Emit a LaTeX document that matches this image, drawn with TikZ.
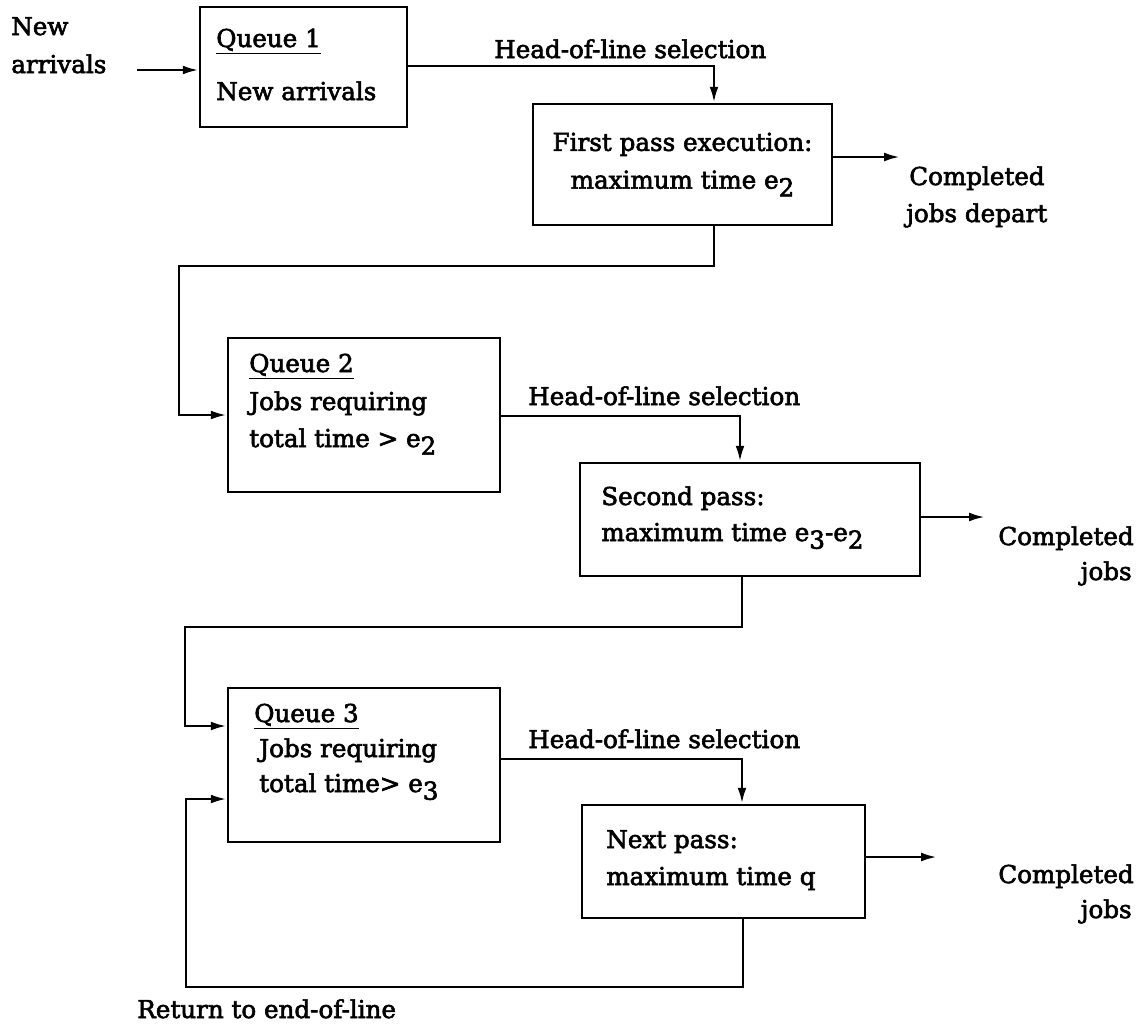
\documentclass[tikz,border=0pt]{standalone}
\usepackage{fontspec}
\setmainfont{DejaVu Serif}[FakeBold=2.5]
\usetikzlibrary{arrows.meta}

\newcommand{\lowix}[1]{\raisebox{-.6ex}{#1}}

\begin{document}
\begin{tikzpicture}[x=.02cm,y=-.02cm,line width=1.5pt,
  font=\fontsize{14}{21.5}\selectfont,
  box/.style={draw,inner sep=0pt},
  txt/.style={anchor=base west,inner sep=0pt},
  rtxt/.style={anchor=base east,inner sep=0pt},
  arr/.style={-{Latex[length=9pt,width=5pt]}}]
  \useasboundingbox (0,0) rectangle (1143,1029);
  % boxes
  \node[box,minimum width=4.14cm,minimum height=2.4cm] (q1) at (303.5,67) {};
  \node[box,minimum width=5.98cm,minimum height=2.42cm,align=center] (pass1) at (682.5,164.5)
    {First pass execution:\\maximum time e\lowix{2}};
  \node[box,minimum width=5.44cm,minimum height=3.08cm] (q2) at (364,415) {};
  \node[box,minimum width=6.8cm,minimum height=2.26cm] (pass2) at (750,519.5) {};
  \node[box,minimum width=5.44cm,minimum height=3.08cm] (q3) at (364,765) {};
  \node[box,minimum width=5.66cm,minimum height=2.26cm] (passn) at (723.5,861.5) {};
  % texts in the boxes
  \node[txt] (q1a) at (215,47) {\underline{Queue 1}};
  \node[txt] (q1b) at (215,100) {New arrivals};
  \node[txt] (q2a) at (248,372) {\underline{Queue 2}};
  \node[txt] (q2b) at (248,410) {Jobs requiring};
  \node[txt] (q2c) at (248,447) {total time > e\lowix{2}};
  \node[txt] (p2a) at (600,505) {Second pass:};
  \node[txt] (p2b) at (600,541) {maximum time e\lowix{3}-e\lowix{2}};
  \node[txt] (q3a) at (253,722) {\underline{Queue 3}};
  \node[txt] (q3b) at (258,757) {Jobs requiring};
  \node[txt] (q3c) at (258,792) {total time> e\lowix{3}};
  \node[txt] (pna) at (605,848) {Next pass:};
  \node[txt] (pnb) at (605,885) {maximum time q};
  % outside labels
  \node[txt] (new1) at (10,35) {New};
  \node[txt] (new2) at (10,73) {arrivals};
  \node[txt] (hol1) at (493,58) {Head-of-line selection};
  \node[txt] (hol2) at (527,405) {Head-of-line selection};
  \node[txt] (hol3) at (527,748) {Head-of-line selection};
  \node[txt] (done1a) at (908,185) {Completed};
  \node[txt] (done1b) at (905,222) {jobs depart};
  \node[rtxt] (done2a) at (1135,545) {Completed};
  \node[rtxt] (done2b) at (1133,580) {jobs};
  \node[rtxt] (donena) at (1135,883) {Completed};
  \node[rtxt] (donenb) at (1133,918) {jobs};
  \node[txt] (ret) at (136,1018) {Return to end-of-line};
  % turning points
  \coordinate (nin) at (137,70);
  \coordinate (h1) at (714,66);
  \coordinate (c1) at (714,266);
  \coordinate (c2) at (179,266);
  \coordinate (h2) at (740,416);
  \coordinate (c3) at (742,627);
  \coordinate (c4) at (185,627);
  \coordinate (in3a) at (185,726);
  \coordinate (h3) at (742,759);
  \coordinate (c5) at (743,987);
  \coordinate (c6) at (186,987);
  \coordinate (in3b) at (186,799);
  \coordinate (t1) at (900,157);
  \coordinate (t2) at (985,517);
  \coordinate (tn) at (937,857);
  % connectors
  \draw[arr] (nin) -- (nin -| q1.west);
  \draw[arr] (q1.east |- h1) -- (h1) -- (h1 |- pass1.north);
  \draw[arr] (pass1.east |- t1) -- (t1);
  \draw[arr] (pass1.south -| c1) -- (c1) -- (c2) |- (q2.west);
  \draw[arr] (q2.east |- h2) -- (h2) -- (h2 |- pass2.north);
  \draw[arr] (pass2.east |- t2) -- (t2);
  \draw[arr] (pass2.south -| c3) -- (c3) -- (c4) -- (in3a) -- (in3a -| q3.west);
  \draw[arr] (q3.east |- h3) -- (h3) -- (h3 |- passn.north);
  \draw[arr] (passn.east |- tn) -- (tn);
  \draw[arr] (passn.south -| c5) -- (c5) -- (c6) -- (in3b) -- (in3b -| q3.west);
\end{tikzpicture}
\end{document}
